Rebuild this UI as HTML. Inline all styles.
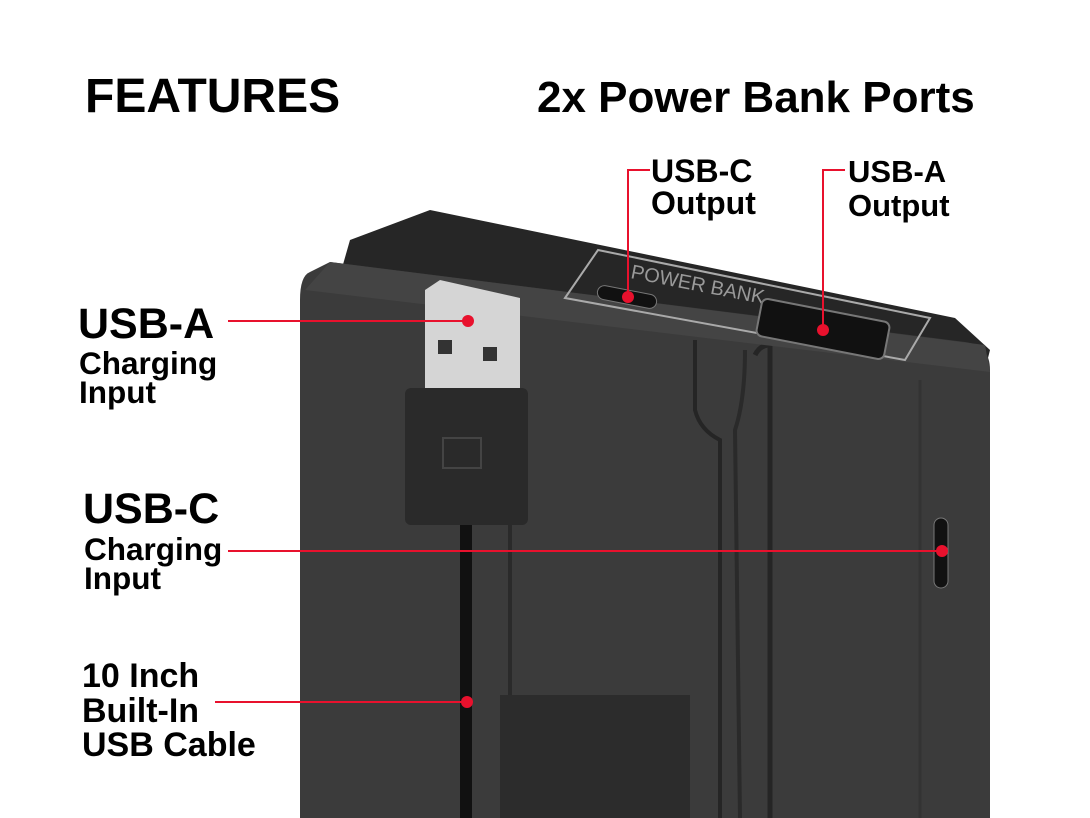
<!DOCTYPE html>
<html><head><meta charset="utf-8"><style>
html,body{margin:0;padding:0;background:#fff;}
svg{display:block;}
text{font-family:"Liberation Sans",Arial,sans-serif;font-weight:bold;fill:#000;}
</style></head><body>
<svg width="1090" height="818" viewBox="0 0 1090 818" xmlns="http://www.w3.org/2000/svg">
<rect width="1090" height="818" fill="#fff"/>
<!-- device top surface -->
<polygon points="350,240 430,210 955,318 990,350 985,370 340,275" fill="#262626"/>
<!-- front face -->
<path d="M310,272 Q300,276 300,300 L300,818 L990,818 L990,370 Q990,345 965,342 L330,262 Z" fill="#3b3b3b"/>
<!-- panel separators -->
<path d="M510,298 L510,818" stroke="#2a2a2a" stroke-width="4"/>
<path d="M755,355 Q760,345 770,345 L770,818" stroke="#252525" stroke-width="5" fill="none"/>
<path d="M695,340 L695,410 Q700,430 720,440 L720,818" stroke="#252525" stroke-width="4" fill="none"/>
<path d="M745,350 Q745,400 735,430 L740,818" stroke="#2a2a2a" stroke-width="4" fill="none"/>
<path d="M920,380 L920,818" stroke="#333" stroke-width="3"/>
<!-- front top band -->
<polygon points="330,262 985,345 990,372 305,290" fill="#444"/>
<!-- bottom label area -->
<rect x="500" y="695" width="190" height="123" fill="#2c2c2c"/>
<!-- top print -->
<polygon points="565,298 598,250 930,318 905,360" fill="none" stroke="#aaa" stroke-width="2"/>
<text x="630" y="278" font-size="20" style="fill:#999;font-weight:normal" transform="rotate(11 630 278)">POWER  BANK</text>
<rect x="597" y="290" width="60" height="14" rx="7" fill="#111" stroke="#777" transform="rotate(11 627 297)"/>
<rect x="758" y="310" width="130" height="38" rx="6" fill="#111" stroke="#777" stroke-width="2" transform="rotate(11 823 329)"/>
<!-- usb-c side port -->
<rect x="934" y="518" width="14" height="70" rx="7" fill="#111" stroke="#777"/>
<!-- cable -->
<rect x="460" y="520" width="12" height="298" fill="#111"/>
<!-- USB plug metal -->
<polygon points="425,290 440,280 520,298 520,390 425,390" fill="#d5d5d5"/>
<rect x="438" y="340" width="14" height="14" fill="#333"/>
<rect x="483" y="347" width="14" height="14" fill="#333"/>
<!-- plug head -->
<rect x="405" y="388" width="123" height="137" rx="6" fill="#2a2a2a"/>
<rect x="443" y="438" width="38" height="30" fill="none" stroke="#444" stroke-width="2"/>
<!-- red callouts -->
<g stroke="#e8112d" stroke-width="2" fill="none">
<line x1="228" y1="321" x2="468" y2="321"/>
<line x1="228" y1="551" x2="942" y2="551"/>
<line x1="215" y1="702" x2="467" y2="702"/>
<polyline points="650,170 628,170 628,297"/>
<polyline points="845,170 823,170 823,330"/>
</g>
<g fill="#e8112d">
<circle cx="468" cy="321" r="6"/><circle cx="942" cy="551" r="6"/><circle cx="467" cy="702" r="6"/>
<circle cx="628" cy="297" r="6"/><circle cx="823" cy="330" r="6"/>
</g>
<!-- labels -->
<text x="85" y="112" font-size="48">FEATURES</text>
<text x="537" y="112" font-size="44">2x Power Bank Ports</text>
<text x="651" y="182" font-size="32">USB-C</text>
<text x="651" y="214" font-size="32">Output</text>
<text x="848" y="182" font-size="31">USB-A</text>
<text x="848" y="216" font-size="31">Output</text>
<text x="78" y="338" font-size="43">USB-A</text>
<text x="79" y="374" font-size="31.5">Charging</text>
<text x="79" y="403" font-size="31.5">Input</text>
<text x="83" y="523" font-size="43">USB-C</text>
<text x="84" y="560" font-size="31.5">Charging</text>
<text x="84" y="589" font-size="31.5">Input</text>
<text x="82" y="687" font-size="34">10 Inch</text>
<text x="82" y="722" font-size="34">Built-In</text>
<text x="82" y="756" font-size="34">USB Cable</text>
</svg>
</body></html>
